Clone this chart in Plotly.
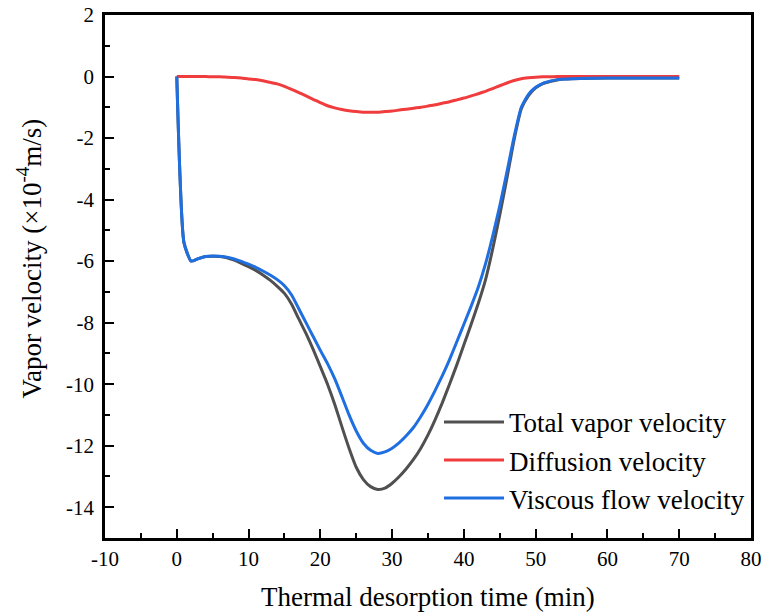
import plotly.graph_objects as go

time_min = [0, 1, 2, 3, 4, 5, 6, 7, 8, 9, 10, 11, 12, 13, 14, 15, 16, 17, 18, 19,
            20, 21, 22, 23, 24, 25, 26, 27, 28, 29, 30, 31, 32, 33, 34, 35, 36, 37, 38, 39,
            40, 41, 42, 43, 44, 45, 46, 47, 48, 49, 50, 51, 52, 53, 54, 55, 60, 65, 70]

total_velocity = [0, -5.4, -6.0, -5.92, -5.85, -5.84, -5.85, -5.89, -5.97, -6.07,
                  -6.18, -6.3, -6.45, -6.62, -6.82, -7.05, -7.4, -7.88, -8.35, -8.87,
                  -9.43, -10.0, -10.65, -11.38, -12.08, -12.7, -13.1, -13.33, -13.42, -13.38,
                  -13.22, -13.0, -12.74, -12.44, -12.08, -11.65, -11.15, -10.6, -10.0, -9.38,
                  -8.72, -8.06, -7.38, -6.62, -5.62, -4.5, -3.3, -2.05, -1.05, -0.62,
                  -0.37, -0.23, -0.16, -0.11, -0.08, -0.07, -0.05, -0.05, -0.05]

diffusion_velocity = [0, 0, 0, 0, 0, -0.01, -0.01, -0.02, -0.03, -0.05,
                      -0.08, -0.1, -0.14, -0.19, -0.24, -0.32, -0.42, -0.52, -0.63, -0.74,
                      -0.85, -0.95, -1.02, -1.07, -1.11, -1.14, -1.16, -1.16, -1.16, -1.14,
                      -1.12, -1.09, -1.06, -1.03, -1.0, -0.96, -0.92, -0.87, -0.82, -0.76,
                      -0.7, -0.63, -0.56, -0.48, -0.39, -0.3, -0.21, -0.13, -0.07, -0.04,
                      -0.02, -0.01, -0.01, 0, 0, 0, 0, 0, 0]

viscous_velocity = [0, -5.4, -6.0, -5.92, -5.85, -5.83, -5.84, -5.87, -5.93, -6.01,
                    -6.1, -6.2, -6.32, -6.45, -6.6, -6.8, -7.1, -7.55, -8.0, -8.45,
                    -8.9, -9.33, -9.82, -10.4, -11.0, -11.52, -11.92, -12.15, -12.25, -12.2,
                    -12.08, -11.9, -11.67, -11.4, -11.05, -10.65, -10.2, -9.72, -9.2, -8.63,
                    -8.05, -7.47, -6.85, -6.1, -5.2, -4.2, -3.1, -1.95, -1.0, -0.58,
                    -0.35, -0.22, -0.15, -0.1, -0.08, -0.07, -0.05, -0.05, -0.05]

series_names = ["Total vapor velocity", "Diffusion velocity", "Viscous flow velocity"]
series_colors = ["#505050", "#F03C3C", "#1F6FE0"]

x_tick_vals = [-10, 0, 10, 20, 30, 40, 50, 60, 70, 80]
x_tick_text = ["-10", "0", "10", "20", "30", "40", "50", "60", "70", "80"]
y_tick_vals = [2, 0, -2, -4, -6, -8, -10, -12, -14]
y_tick_text = ["2", "0", "-2", "-4", "-6", "-8", "-10", "-12", "-14"]

x_title = "Thermal desorption time (min)"
y_title = "Vapor velocity (×10<sup>-4</sup>m/s)"

FONT = "Liberation Serif"

fig = go.Figure()
for name, ys, col in zip(series_names,
                         [total_velocity, diffusion_velocity, viscous_velocity],
                         series_colors):
    fig.add_trace(go.Scatter(x=time_min, y=ys, mode="lines", name=name,
                             line=dict(color=col, width=3, shape="spline", smoothing=0.5)))

axis_common = dict(
    showline=True, linecolor="black", linewidth=2.5, mirror=True,
    ticks="inside", ticklen=9, tickwidth=2, tickcolor="black",
    showgrid=False, zeroline=False, automargin=False,
    tickfont=dict(family=FONT, size=21, color="black"),
)

fig.update_xaxes(range=[-10, 80], tickmode="array", tickvals=x_tick_vals, ticktext=x_tick_text,
                 minor=dict(dtick=5, tick0=0, ticks="inside", ticklen=5, tickwidth=2,
                            tickcolor="black", showgrid=False),
                 **axis_common)
fig.update_yaxes(range=[-15, 2], tickmode="array", tickvals=y_tick_vals, ticktext=y_tick_text,
                 minor=dict(dtick=1, tick0=0, ticks="inside", ticklen=5, tickwidth=2,
                            tickcolor="black", showgrid=False),
                 ticklabelstandoff=4,
                 **axis_common)

fig.add_annotation(text=x_title, xref="paper", yref="paper", x=0.5, y=-0.113,
                   xanchor="center", yanchor="middle", showarrow=False,
                   font=dict(family=FONT, size=27, color="black"))
fig.add_annotation(text=y_title, xref="paper", yref="paper", x=-0.117, y=0.535,
                   xanchor="center", yanchor="middle", showarrow=False, textangle=-90,
                   font=dict(family=FONT, size=27, color="black"))

fig.update_layout(
    width=766, height=615,
    margin=dict(l=105, r=15, t=15, b=77),
    paper_bgcolor="white", plot_bgcolor="white",
    font=dict(family=FONT, color="black"),
    legend=dict(x=0.517, y=0.268, xanchor="left", yanchor="top",
                bgcolor="rgba(0,0,0,0)", borderwidth=0,
                font=dict(family=FONT, size=27, color="black"),
                tracegroupgap=0, itemwidth=60),
)

fig.write_html("out.html")
